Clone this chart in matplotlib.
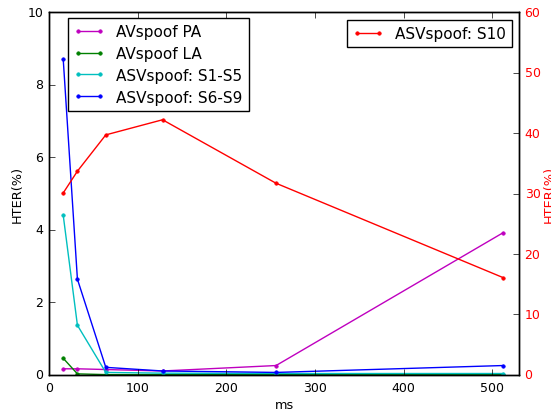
import matplotlib
matplotlib.use('Agg')
import matplotlib.pyplot as plt
import numpy as np

plt.style.use('classic')
plt.rcParams['font.size'] = 9
plt.rcParams['axes.labelsize'] = 9.3
plt.rcParams['legend.fontsize'] = 11

# window sizes (ms)
ms = [16, 32, 64, 128, 256, 512]

# left axis series, HTER(%)
avspoof_pa = [0.17, 0.17, 0.15, 0.11, 0.26, 3.92]
avspoof_la = [0.46, 0.03, 0.01, 0.01, 0.01, 0.01]
asv_s1_s5 = [4.4, 1.37, 0.07, 0.05, 0.04, 0.04]
asv_s6_s9 = [8.7, 2.64, 0.21, 0.11, 0.07, 0.26]

# right axis series, HTER(%)
asv_s10 = [30.1, 33.7, 39.7, 42.2, 31.7, 16.1]

leg_kw = dict(numpoints=2, handlelength=2.05, handletextpad=0.75,
              borderpad=0.38, labelspacing=0.45, borderaxespad=0)

fig = plt.figure(figsize=(5.51, 4.10), dpi=100, facecolor='white')
ax = fig.add_axes([0.089, 0.083, 0.853, 0.885])

ax.plot(ms, avspoof_pa, 'm.-', ms=5, label='AVspoof PA')
ax.plot(ms, avspoof_la, 'g.-', ms=5, label='AVspoof LA')
ax.plot(ms, asv_s1_s5, 'c.-', ms=5, label='ASVspoof: S1-S5')
ax.plot(ms, asv_s6_s9, 'b.-', ms=5, label='ASVspoof: S6-S9')
ax.set_xlim(0, 530)
ax.set_ylim(0, 10)
ax.set_xlabel('ms', labelpad=3)
ax.set_ylabel('HTER(%)', labelpad=2.5)
ax.legend(loc='upper left', bbox_to_anchor=(0.040, 0.983), **leg_kw)

ax2 = ax.twinx()
ax2.plot(ms, asv_s10, 'r.-', ms=5, label='ASVspoof: S10')
ax2.set_ylim(0, 60)
ax2.set_xlim(0, 530)
ax2.set_ylabel('HTER(%)', color='r', labelpad=1.5)
for t in ax2.get_yticklabels():
    t.set_color('r')
ax2.legend(loc='upper right', bbox_to_anchor=(0.985, 0.978), **leg_kw)

fig.savefig('out.png', dpi=100, facecolor='white')
